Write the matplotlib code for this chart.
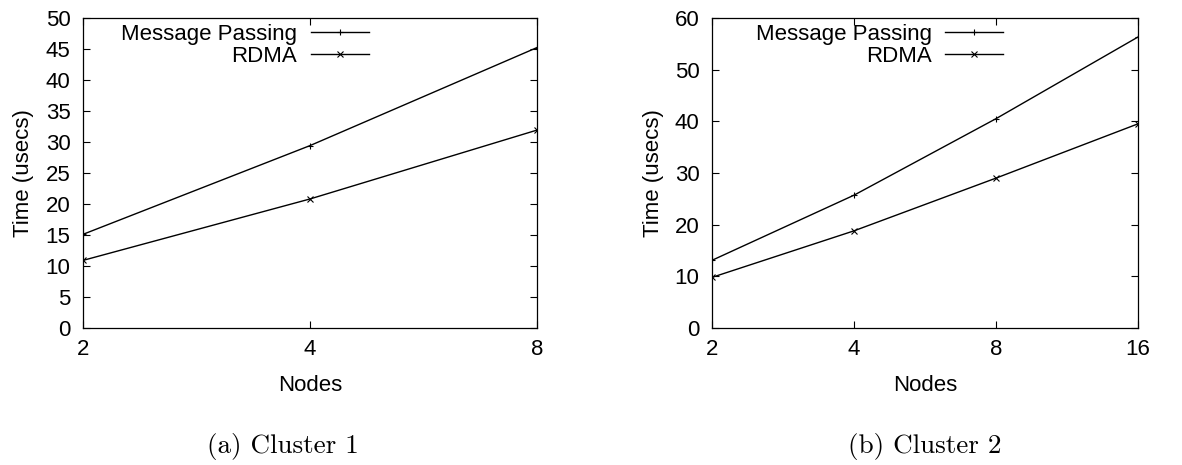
import matplotlib
matplotlib.use("Agg")
import matplotlib.pyplot as plt
from matplotlib.ticker import FixedLocator, NullLocator

plt.rcParams['font.family'] = ['Liberation Sans', 'DejaVu Sans']

# cluster 1
nodes_1 = [2, 4, 8]
msg_1 = [15.1, 29.4, 45.2]
rdma_1 = [10.9, 20.8, 31.9]

# cluster 2
nodes_2 = [2, 4, 8, 16]
msg_2 = [13.1, 25.7, 40.5, 56.3]
rdma_2 = [9.8, 18.8, 29.0, 39.5]

captions = ["(a) Cluster 1", "(b) Cluster 2"]
yticks_1 = list(range(0, 51, 5))
yticks_2 = list(range(0, 61, 10))


def draw(ax, nodes, msg, rdma, yticks, leg_x, gap):
    ax.plot(nodes, msg, color='black', lw=1.0, marker='+', ms=5, mew=0.8,
            label='Message Passing')
    ax.plot(nodes, rdma, color='black', lw=1.0, marker='x', ms=4, mew=0.8,
            label='RDMA')
    ax.set_xscale('log', base=2)
    ax.set_xlim(nodes[0], nodes[-1])
    ax.xaxis.set_major_locator(FixedLocator(nodes))
    ax.xaxis.set_minor_locator(NullLocator())
    ax.set_xticklabels([str(n) for n in nodes])
    ax.set_ylim(yticks[0], yticks[-1])
    ax.set_yticks(yticks)
    ax.tick_params(direction='in', length=5, width=0.8, top=True, right=True,
                   labelsize=16)
    ax.tick_params(axis='x', pad=8)
    ax.tick_params(axis='y', pad=9)
    ax.set_xlabel('Nodes', fontsize=16, labelpad=11)
    ax.set_ylabel('Time (usecs)', fontsize=16, labelpad=8)
    for s in ax.spines.values():
        s.set_linewidth(0.9)
    ax.legend(loc='upper right', bbox_to_anchor=(leg_x, 0.98), frameon=False,
              markerfirst=False, fontsize=16, handlelength=2.6,
              handletextpad=gap, labelspacing=0.05, borderpad=0,
              borderaxespad=0)


fig = plt.figure(figsize=(11.82, 4.65), dpi=100)
ax1 = fig.add_axes([0.0702, 0.2946, 0.384, 0.667])
ax2 = fig.add_axes([0.6024, 0.2946, 0.3604, 0.667])

draw(ax1, nodes_1, msg_1, rdma_1, yticks_1, 0.630, 0.65)
draw(ax2, nodes_2, msg_2, rdma_2, yticks_2, 0.683, 0.59)

fig.text(283 / 1182, 0.040, captions[0], ha='center', va='center',
         family='cmr10', fontsize=19.5)
fig.text(925 / 1182, 0.040, captions[1], ha='center', va='center',
         family='cmr10', fontsize=19.5)

fig.savefig('out.png', dpi=100)
